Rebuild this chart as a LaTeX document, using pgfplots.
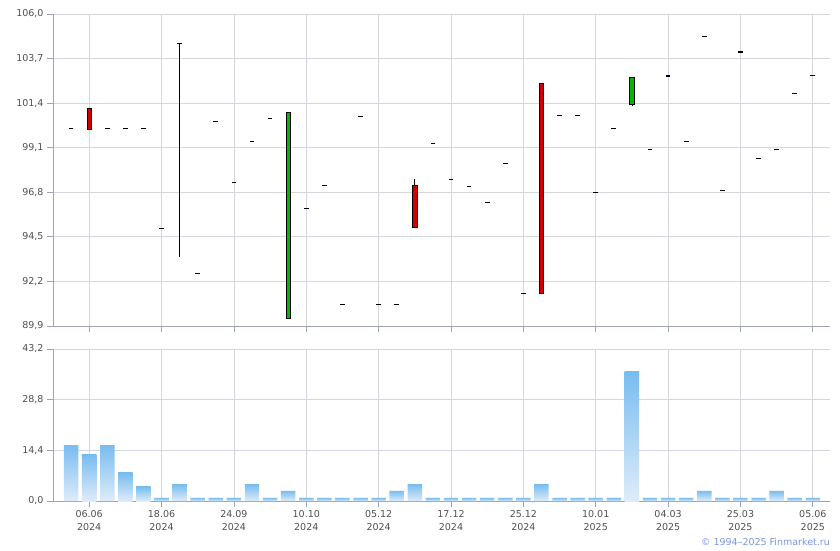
\documentclass[border=0pt]{standalone}
\usepackage{pgfplots}
\pgfplotsset{compat=1.18}
\usepackage{fontspec}
\setmainfont{DejaVu Sans}
\definecolor{gridc}{RGB}{212,216,222}
\definecolor{axc}{RGB}{160,164,176}
\definecolor{txt}{RGB}{80,80,80}
\definecolor{cred}{RGB}{210,0,0}
\definecolor{cgreen}{RGB}{0,185,0}
\definecolor{btop}{RGB}{120,188,240}
\definecolor{bbot}{RGB}{222,236,249}
\definecolor{copyc}{RGB}{120,150,230}
\pgfplotsset{
  base/.style={
    scale only axis, width=777pt, xmin=-1, xmax=41.95,
    axis x line*=bottom, axis y line*=left,
    axis line style={axc, line width=0.8pt},
    grid=major, major grid style={gridc, line width=0.8pt},
    tick style={axc, line width=0.8pt},
    tick align=outside, major tick length=6pt,
    xtick={1,5,...,41},
    ticklabel style={font=\fontsize{9.5}{13}\selectfont, text=txt},
    clip=false,
  },
  vbar/.style={ybar, bar shift=0pt, bar width=0.8, draw=none, top color=btop, bottom color=bbot},
}
\begin{document}
\begin{tikzpicture}
\useasboundingbox (0,0) rectangle (840pt,-550pt);
% ---------- price panel ----------
\begin{axis}[base, at={(53pt,-326pt)}, anchor=south west, height=312pt,
  ymin=89.9, ymax=106,
  ytick={89.9,92.2,94.5,96.8,99.1,101.4,103.7,106.0},
  yticklabels={{89,9},{92,2},{94,5},{96,8},{99,1},{101,4},{103,7},{106,0}},
  xticklabels={}]
% wicks
\addplot[black, line width=0.8pt] coordinates {(6,93.45) (6,104.5)};
\addplot[black, line width=0.8pt] coordinates {(19,97.49) (19,97.17)};
\addplot[black, line width=0.8pt] coordinates {(31,101.23) (31,101.35)};
% bodies
\addplot[fill=cred, draw=black, line width=0.8pt] coordinates {(0.88,101.14) (1.12,101.14) (1.12,100.06) (0.88,100.06)} -- cycle;
\addplot[fill=cgreen, draw=black, line width=0.8pt] coordinates {(11.88,90.30) (12.12,90.30) (12.12,100.94) (11.88,100.94)} -- cycle;
\addplot[fill=cred, draw=black, line width=0.8pt] coordinates {(18.88,97.17) (19.12,97.17) (19.12,94.98) (18.88,94.98)} -- cycle;
\addplot[fill=cred, draw=black, line width=0.8pt] coordinates {(25.88,102.44) (26.12,102.44) (26.12,91.57) (25.88,91.57)} -- cycle;
\addplot[fill=cgreen, draw=black, line width=0.8pt] coordinates {(30.88,101.35) (31.12,101.35) (31.12,102.75) (30.88,102.75)} -- cycle;
% single-price days
\addplot[only marks, mark=-, mark size=2.4pt, mark options={line width=1.1pt, black}] coordinates {
(0,100.08) (2,100.08) (3,100.08) (4,100.08) (5,94.95) (6,104.5) (7,92.62) (8,100.47)
(9,97.32) (10,99.44) (11,100.59) (13,95.98) (14,97.17) (15,91.02) (16,100.73)
(17,91.02) (18,91.02) (20,99.34) (21,97.48) (22,97.12) (23,96.29) (24,98.30)
(25,91.59) (27,100.78) (28,100.78) (29,96.81) (30,100.11) (32,99.03) (33,102.80)
(34,99.44) (35,104.86) (36,96.91) (37,104.04) (38,98.56) (39,99.03) (40,101.92)
(41,102.85)};
\end{axis}
% ---------- volume panel ----------
\begin{axis}[base, at={(53pt,-501pt)}, anchor=south west, height=152pt,
  ymin=0, ymax=43.2,
  ytick={0,14.4,28.8,43.2},
  yticklabels={{0,0},{14,4},{28,8},{43,2}},
  xticklabels={{06.06\\2024},{18.06\\2024},{24.09\\2024},{10.10\\2024},{05.12\\2024},{17.12\\2024},{25.12\\2024},{10.01\\2025},{04.03\\2025},{25.03\\2025},{05.06\\2025}},
  xticklabel style={align=center}]
% bars grouped by height so each gets its own top-to-bottom gradient
\addplot[vbar] coordinates {(0,15.9) (2,15.9)};
\addplot[vbar] coordinates {(1,13.1)};
\addplot[vbar] coordinates {(3,8.0)};
\addplot[vbar] coordinates {(4,4.0)};
\addplot[vbar] coordinates {(6,4.8) (10,4.8) (19,4.8) (26,4.8)};
\addplot[vbar] coordinates {(12,2.9) (18,2.9) (35,2.9) (39,2.9)};
\addplot[vbar] coordinates {(31,36.9)};
\addplot[vbar] coordinates {
(5,0.9) (7,0.9) (8,0.9) (9,0.9) (11,0.9) (13,0.9) (14,0.9) (15,0.9) (16,0.9) (17,0.9)
(20,0.9) (21,0.9) (22,0.9) (23,0.9) (24,0.9) (25,0.9) (27,0.9) (28,0.9) (29,0.9) (30,0.9)
(32,0.9) (33,0.9) (34,0.9) (36,0.9) (37,0.9) (38,0.9) (40,0.9) (41,0.9)};
\end{axis}
\node[anchor=east, text=copyc, font=\fontsize{9.5}{12}\selectfont, inner sep=0pt] at (830pt,-542pt) {© 1994–2025 Finmarket.ru};
\end{tikzpicture}
\end{document}
